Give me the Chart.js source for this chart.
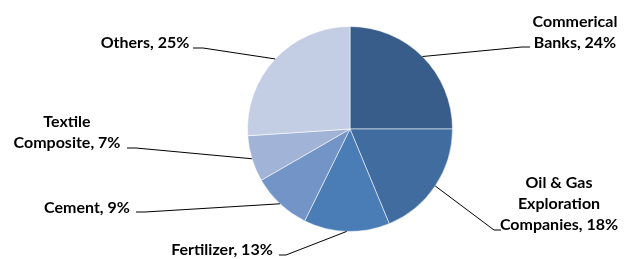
<!DOCTYPE html>
<html>
<head>
<meta charset="utf-8">
<script src="https://cdn.jsdelivr.net/npm/chart.js@4/dist/chart.umd.min.js"></script>
<style>
html,body{margin:0;padding:0;background:#fff;}
#wrap{width:626px;height:259px;position:relative;}
</style>
</head>
<body>
<div id="wrap"><canvas id="c" width="626" height="259"></canvas></div>
<script>
const categories = ["Commerical Banks", "Oil & Gas Exploration Companies", "Fertilizer", "Cement", "Textile Composite", "Others"];
const shares = [24, 18, 13, 9, 7, 25];
const sliceColors = ["#395D8A", "#406CA0", "#4A7CB6", "#7394C6", "#A1B4D7", "#C3CDE3"];

// label layout: words per line, text centre x, first baseline y, leader elbow and end
const labelLayout = [
  {words:[1,2],   cx:575, y:27,  elbow:[522,47],  end:[530,47]},
  {words:[3,1,2], cx:559, y:188, elbow:[494,230], end:[501,230]},
  {words:[2],     cx:222, y:255, elbow:[286,255], end:[279,255]},
  {words:[2],     cx:87,  y:213, elbow:[145,212], end:[136,212]},
  {words:[1,2],   cx:67,  y:127, elbow:[136,148], end:[127,148]},
  {words:[2],     cx:145, y:48,  elbow:[203,48],  end:[193,48]}
];

const FONT = "bold 16px Lato, 'Liberation Sans', sans-serif";
const LINE_H = 21;

const leaderLabels = {
  id: 'leaderLabels',
  afterDatasetsDraw(chart) {
    const ctx = chart.ctx;
    const meta = chart.getDatasetMeta(0);
    const data = chart.data.datasets[0].data;
    ctx.save();
    meta.data.forEach((arc, i) => {
      const p = arc.getProps(['x','y','startAngle','endAngle','outerRadius'], true);
      const mid = (p.startAngle + p.endAngle) / 2;
      const ax = p.x + Math.cos(mid) * p.outerRadius;
      const ay = p.y + Math.sin(mid) * p.outerRadius;
      const L = labelLayout[i];
      ctx.strokeStyle = '#000';
      ctx.lineWidth = 1;
      ctx.beginPath();
      ctx.moveTo(ax, ay);
      ctx.lineTo(L.elbow[0], L.elbow[1]);
      ctx.lineTo(L.end[0], L.end[1]);
      ctx.stroke();
      const words = (chart.data.labels[i] + ', ' + data[i] + '%').split(' ');
      const lines = [];
      let k = 0;
      L.words.forEach(n => { lines.push(words.slice(k, k + n).join(' ')); k += n; });
      if (k < words.length) lines[lines.length-1] += ' ' + words.slice(k).join(' ');
      ctx.font = FONT;
      ctx.fillStyle = '#000';
      ctx.textAlign = 'center';
      ctx.textBaseline = 'alphabetic';
      lines.forEach((t, j) => ctx.fillText(t, L.cx, L.y + j * LINE_H));
    });
    ctx.restore();
  }
};

new Chart(document.getElementById('c'), {
  type: 'pie',
  data: {
    labels: categories,
    datasets: [{
      data: shares,
      backgroundColor: sliceColors,
      borderColor: 'rgba(255,255,255,0.55)',
      borderWidth: 1
    }]
  },
  options: {
    responsive: false,
    animation: false,
    layout: { padding: { left: 247, right: 173, top: 26, bottom: 27 } },
    plugins: { legend: { display: false }, tooltip: { enabled: false } }
  },
  plugins: [leaderLabels]
});
</script>
</body>
</html>
